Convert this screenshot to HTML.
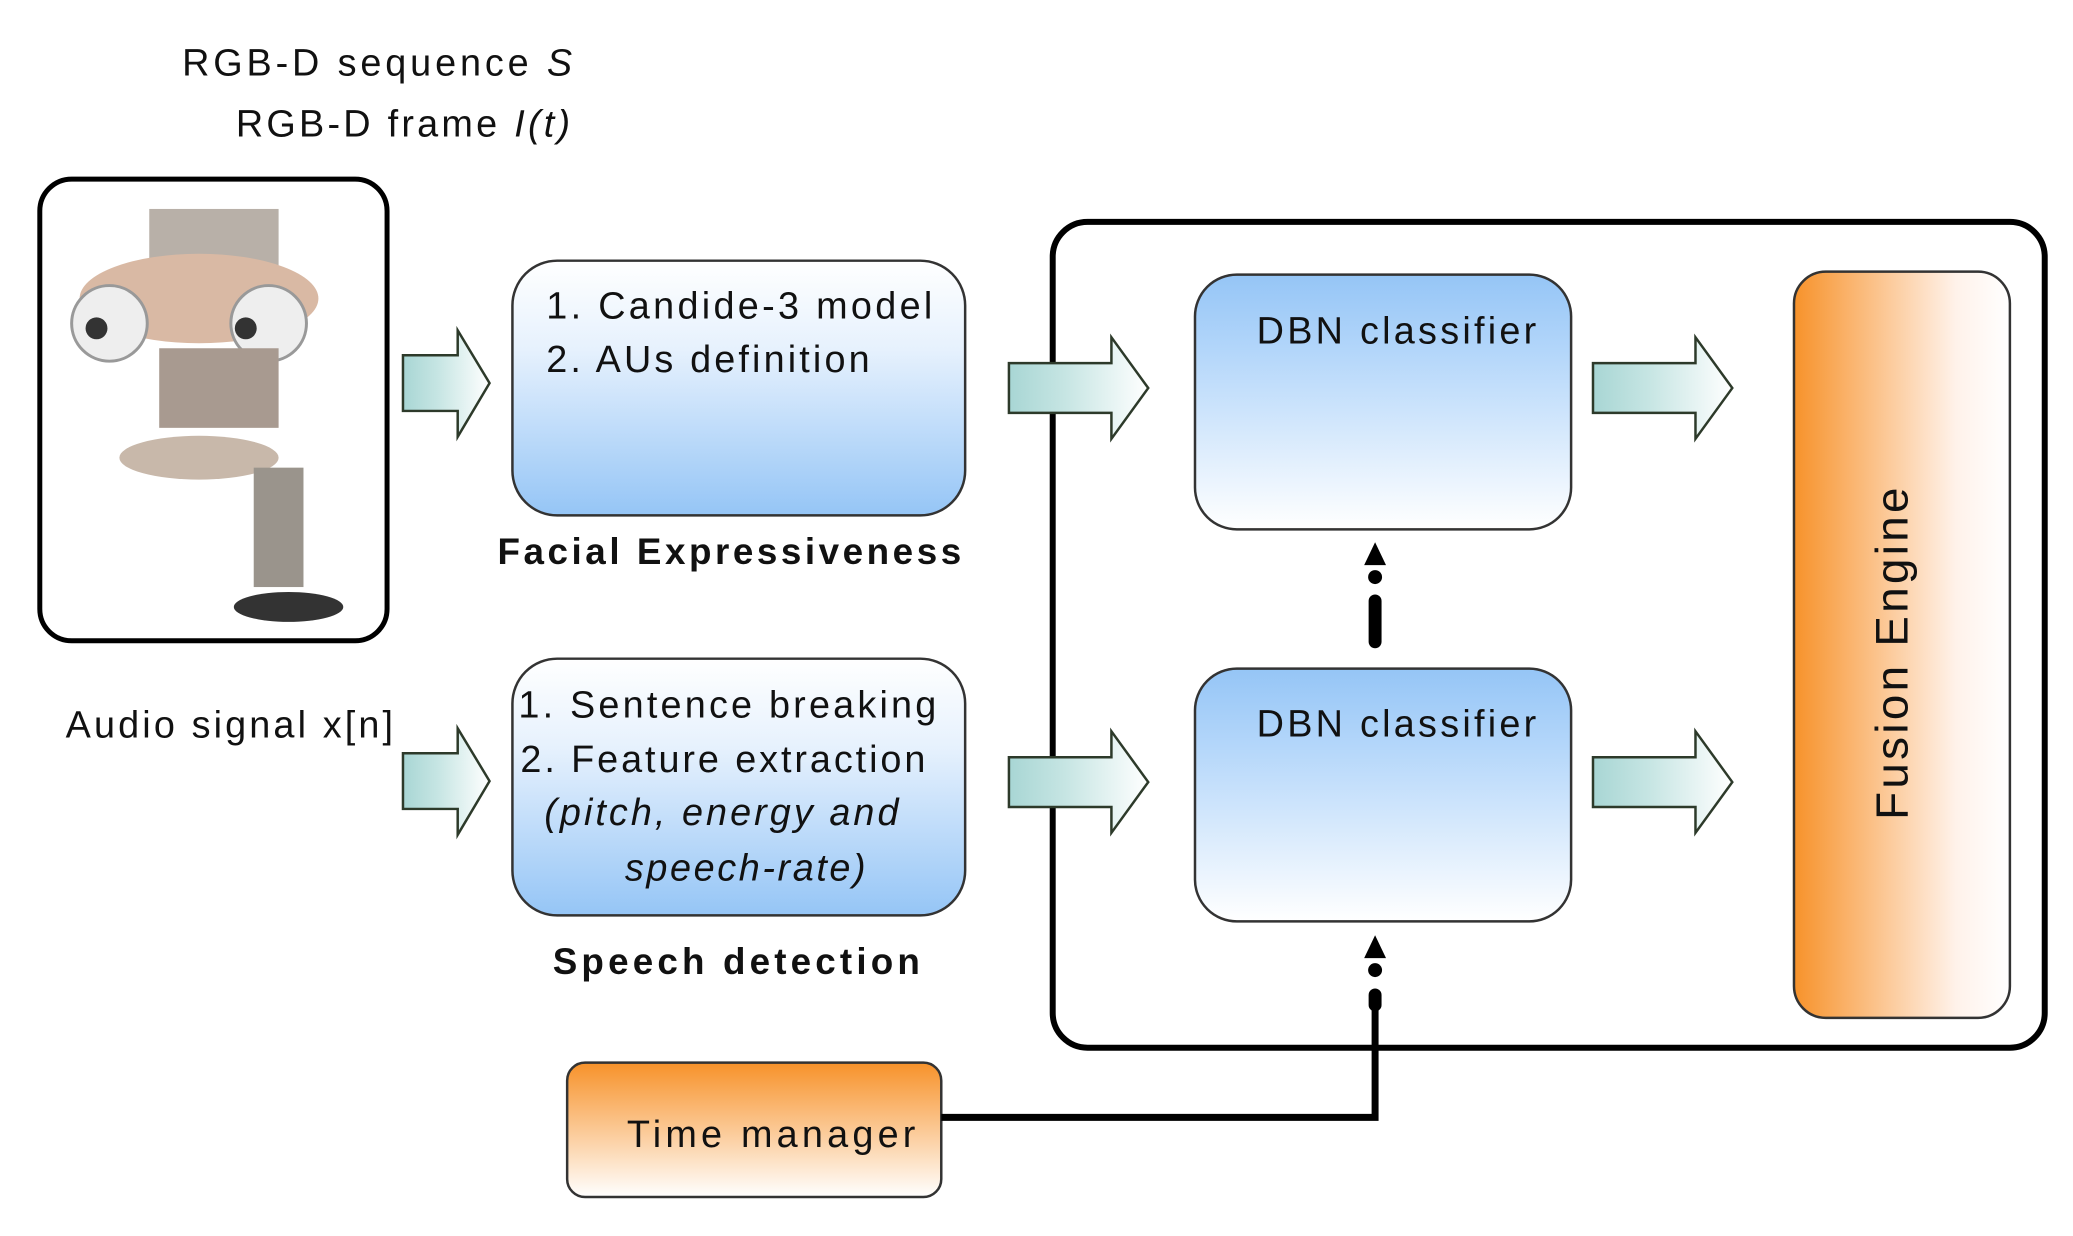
<!DOCTYPE html>
<html><head><meta charset="utf-8"><style>
html,body{margin:0;padding:0;background:#fff;}
svg{display:block;}
text{font-family:"Liberation Sans",sans-serif;fill:#111;}
</style></head><body>
<svg width="2073" height="1236" viewBox="0 0 2073 1236" xmlns="http://www.w3.org/2000/svg">
<defs>
<linearGradient id="blueV" x1="0" y1="0" x2="0" y2="1">
<stop offset="0" stop-color="#ffffff"/><stop offset="0.35" stop-color="#e6f1fd"/><stop offset="1" stop-color="#95c5f6"/></linearGradient>
<linearGradient id="blueV2" x1="0" y1="0" x2="0" y2="1">
<stop offset="0" stop-color="#95c5f6"/><stop offset="0.3" stop-color="#b3d6fa"/><stop offset="1" stop-color="#ffffff"/></linearGradient>
<linearGradient id="orV" x1="0" y1="0" x2="0" y2="1">
<stop offset="0" stop-color="#f7922a"/><stop offset="1" stop-color="#ffffff"/></linearGradient>
<linearGradient id="orH" x1="0" y1="0" x2="1" y2="0">
<stop offset="0" stop-color="#f7922a"/><stop offset="0.75" stop-color="#fff2ea"/><stop offset="1" stop-color="#ffffff"/></linearGradient>
<linearGradient id="arr" x1="0" y1="0" x2="1" y2="0">
<stop offset="0" stop-color="#a8d6d4"/><stop offset="0.4" stop-color="#c6e5e3"/><stop offset="1" stop-color="#ffffff"/></linearGradient>
<g id="fat">
<polygon points="0,25 55,25 55,0 87,53 55,107 55,81 0,81" fill="url(#arr)" stroke="#2d3a2a" stroke-width="2.5"/>
</g>
<g id="fat2">
<polygon points="0,26 103,26 103,0 140,51 103,102 103,76 0,76" fill="url(#arr)" stroke="#2d3a2a" stroke-width="2.5"/>
</g>
</defs>
<g transform="scale(0.995)">
<!-- top labels -->
<text x="575" y="76" font-size="38" text-anchor="end" textLength="392" lengthAdjust="spacing">RGB-D sequence <tspan font-style="italic">S</tspan></text>
<text x="573" y="137" font-size="38" text-anchor="end" textLength="336" lengthAdjust="spacing">RGB-D frame <tspan font-style="italic">I(t)</tspan></text>

<!-- robot box -->
<rect x="40" y="180" width="349" height="464" rx="32" fill="#fff" stroke="#000" stroke-width="5"/>
<g>
<rect x="150" y="210" width="130" height="70" fill="#b8b0a8"/>
<ellipse cx="200" cy="300" rx="120" ry="45" fill="#d9b9a4"/>
<circle cx="110" cy="325" r="38" fill="#eeeeee" stroke="#999" stroke-width="3"/>
<circle cx="270" cy="325" r="38" fill="#eeeeee" stroke="#999" stroke-width="3"/>
<circle cx="97" cy="330" r="11" fill="#333"/>
<circle cx="247" cy="330" r="11" fill="#333"/>
<rect x="160" y="350" width="120" height="80" fill="#a89a90"/>
<ellipse cx="200" cy="460" rx="80" ry="22" fill="#c8b8aa"/>
<rect x="255" y="470" width="50" height="120" fill="#9a948c"/>
<ellipse cx="290" cy="610" rx="55" ry="15" fill="#333"/>
</g>

<use href="#fat" x="405" y="332"/>
<use href="#fat" x="405" y="732"/>

<rect x="515" y="262" width="455" height="256" rx="45" fill="url(#blueV)" stroke="#333" stroke-width="2.5"/>
<text x="549" y="320" font-size="38" textLength="388" lengthAdjust="spacing">1. Candide-3 model</text>
<text x="549" y="374" font-size="38" textLength="325" lengthAdjust="spacing">2. AUs definition</text>
<text x="733" y="567" font-size="37" font-weight="bold" text-anchor="middle" textLength="466" lengthAdjust="spacing">Facial Expressiveness</text>

<text x="66" y="741" font-size="38" textLength="329" lengthAdjust="spacing">Audio signal x[n]</text>

<rect x="515" y="662" width="455" height="258" rx="45" fill="url(#blueV)" stroke="#333" stroke-width="2.5"/>
<text x="521" y="721" font-size="38" textLength="420" lengthAdjust="spacing">1. Sentence breaking</text>
<text x="523" y="776" font-size="38" textLength="407" lengthAdjust="spacing">2. Feature extraction</text>
<text x="547" y="829" font-size="38" font-style="italic" textLength="356" lengthAdjust="spacing">(pitch, energy and</text>
<text x="628" y="885" font-size="38" font-style="italic" textLength="242" lengthAdjust="spacing">speech-rate)</text>
<text x="740" y="979" font-size="37" font-weight="bold" text-anchor="middle" textLength="369" lengthAdjust="spacing">Speech detection</text>

<rect x="1058" y="223" width="997" height="830" rx="35" fill="none" stroke="#000" stroke-width="6"/>

<use href="#fat2" x="1014" y="339"/>
<use href="#fat2" x="1014" y="735"/>

<rect x="1201" y="276" width="378" height="256" rx="42" fill="url(#blueV2)" stroke="#333" stroke-width="2.5"/>
<text x="1263" y="345" font-size="38" textLength="281" lengthAdjust="spacing">DBN classifier</text>
<rect x="1201" y="672" width="378" height="254" rx="42" fill="url(#blueV2)" stroke="#333" stroke-width="2.5"/>
<text x="1263" y="740" font-size="38" textLength="281" lengthAdjust="spacing">DBN classifier</text>

<use href="#fat2" x="1601" y="339"/>
<use href="#fat2" x="1601" y="735"/>

<rect x="1803" y="273" width="217" height="750" rx="32" fill="url(#orH)" stroke="#333" stroke-width="2.5"/>
<text transform="translate(1917,657) rotate(-90)" font-size="46" text-anchor="middle" textLength="334" lengthAdjust="spacing">Fusion Engine</text>

<line x1="1382" y1="604" x2="1382" y2="645" stroke="#000" stroke-width="13" stroke-linecap="round"/>
<circle cx="1382" cy="580" r="7" fill="#000"/>
<polygon points="1382,545 1371,568 1393,568" fill="#000"/>

<rect x="570" y="1068" width="376" height="135" rx="18" fill="url(#orV)" stroke="#333" stroke-width="2.5"/>
<text x="630" y="1153" font-size="38" textLength="290" lengthAdjust="spacing">Time manager</text>
<polyline points="946,1123 1382,1123 1382,1010" fill="none" stroke="#000" stroke-width="7"/>
<line x1="1382" y1="1010" x2="1382" y2="1000" stroke="#000" stroke-width="13" stroke-linecap="round"/>
<circle cx="1382" cy="975" r="7" fill="#000"/>
<polygon points="1382,940 1371,963 1393,963" fill="#000"/>
</g>
</svg>
</body></html>
